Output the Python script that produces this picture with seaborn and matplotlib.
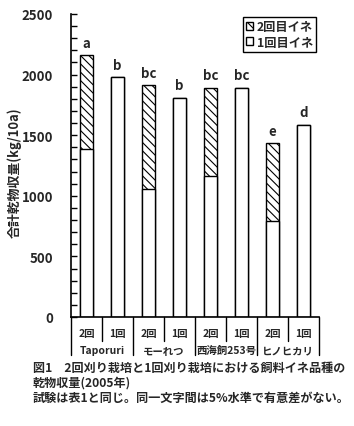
import matplotlib
matplotlib.use("Agg")
import matplotlib.pyplot as plt
from matplotlib.patches import Patch
from matplotlib.ticker import MultipleLocator
import seaborn as sns
import numpy as np
import pandas as pd

# data
cuts = ["2回", "1回", "2回", "1回", "2回", "1回", "2回", "1回"]
varieties = ["Taporuri", "モーれつ", "西海飼253号", "ヒノヒカリ"]
first_crop = [1390, 1980, 1055, 1810, 1165, 1890, 790, 1585]   # 1回目イネ
second_crop = [770, 0, 858, 0, 725, 0, 645, 0]                # 2回目イネ
letters = ["a", "b", "bc", "b", "bc", "bc", "e", "d"]

sns.set_style("ticks")
plt.rcParams["font.family"] = ["Noto Sans CJK JP", "DejaVu Sans"]
plt.rcParams["font.weight"] = "bold"
plt.rcParams["hatch.linewidth"] = 0.8

df = pd.DataFrame({"pos": [str(i) for i in range(len(cuts))],
                   "first": first_crop, "second": second_crop})
df["total"] = df["first"] + df["second"]

fig = plt.figure(figsize=(3.54, 4.27), dpi=100)
ax = fig.add_axes([0.2006, 0.2553, 0.7006, 0.7096])

# total first (hatched where there is a second crop), then first crop over it
sns.barplot(data=df, x="pos", y="total", color="white", edgecolor="black",
            linewidth=1, width=0.39, errorbar=None, saturation=1, ax=ax)
for bar, s in zip(ax.patches, second_crop):
    if s > 0:
        bar.set_hatch("\\\\\\\\")
sns.barplot(data=df, x="pos", y="first", color="white", edgecolor="black",
            linewidth=1, width=0.39, errorbar=None, saturation=1, ax=ax)

for i, (t, l) in enumerate(zip(df["total"], letters)):
    ax.text(i, t + 45, l, ha="center", va="bottom", fontsize=9.5, fontweight="bold")

ax.set_ylim(0, 2500)
ax.set_xlim(-0.5, len(cuts) - 0.5)
ax.yaxis.set_major_locator(MultipleLocator(500))
ax.yaxis.set_minor_locator(MultipleLocator(100))
ax.tick_params(axis="y", which="both", direction="in", length=4, width=1,
               color="black", pad=13, labelsize=9.5)
ax.tick_params(axis="x", bottom=False, labelbottom=False)
for lab in ax.get_yticklabels():
    lab.set_fontweight("bold")
ax.set_xlabel("")
ax.set_ylabel("合計乾物収量(kg/10a)", fontsize=9.3, fontweight="bold")
ax.yaxis.set_label_coords(-0.20, 0.48)
sns.despine(ax=ax)
for sp in ["left", "bottom"]:
    ax.spines[sp].set_linewidth(1.2)
    ax.spines[sp].set_color("black")

# category table under the axis
trans = ax.get_xaxis_transform()
for i, c in enumerate(cuts):
    ax.text(i, -0.053, c, transform=trans, ha="center", va="center",
            fontsize=7.5, fontweight="bold")
for k in range(len(cuts) + 1):
    x = k - 0.5
    y_end = -0.125 if k % 2 == 0 else -0.079
    ax.plot([x, x], [0, y_end], transform=trans, color="black", lw=1, clip_on=False)
for j, v in enumerate(varieties):
    ax.text(2 * j + 0.5, -0.110, v, transform=trans, ha="center", va="center",
            fontsize=7.5, fontweight="bold")

handles = [Patch(facecolor="white", edgecolor="black", hatch="\\\\\\\\", label="2回目イネ"),
           Patch(facecolor="white", edgecolor="black", label="1回目イネ")]
leg = ax.legend(handles=handles, loc="upper right", bbox_to_anchor=(0.988, 0.99),
                borderaxespad=0, fancybox=False, edgecolor="black", framealpha=1,
                handlelength=0.6, handleheight=0.6, handletextpad=0.3,
                borderpad=0.25, labelspacing=0.2, prop={"size": 8.8, "weight": "bold"})
leg.get_frame().set_linewidth(1)

caption = ["図1　2回刈り栽培と1回刈り栽培における飼料イネ品種の",
           "乾物収量(2005年)",
           "試験は表1と同じ。同一文字間は5%水準で有意差がない。"]
texts = []
for k, line in enumerate(caption):
    texts.append(fig.text(33 / 354, 1 - (368 + 15 * k) / 427, line, ha="left",
                          va="center", fontsize=9.2, fontweight="bold"))

# shrink caption so the long lines end where they do in the reference (~x=348px)
renderer = fig.canvas.get_renderer()
w = max(texts[0].get_window_extent(renderer).width,
        texts[2].get_window_extent(renderer).width)
size = 9.2 * 315 / w
for t in texts:
    t.set_fontsize(size)

fig.savefig("out.png", dpi=100)
